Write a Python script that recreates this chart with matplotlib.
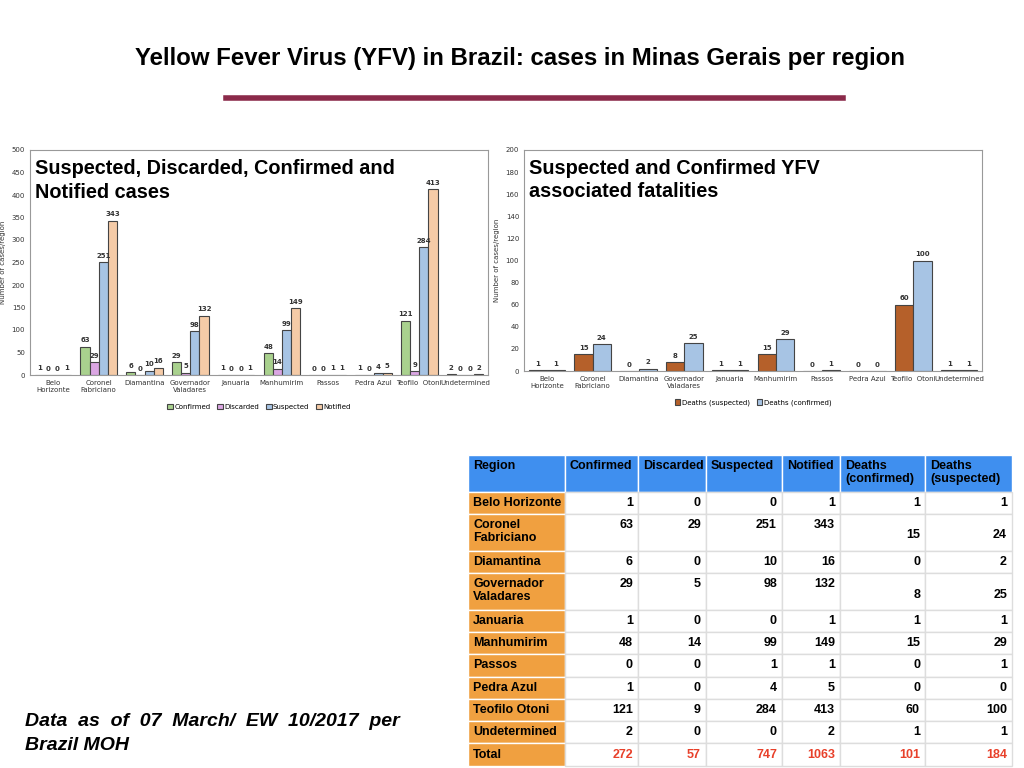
import matplotlib
matplotlib.use("Agg")
import matplotlib.pyplot as plt
import numpy as np
from matplotlib.patches import Rectangle

regions = ["Belo Horizonte", "Coronel Fabriciano", "Diamantina", "Governador Valadares", "Januaria",
           "Manhumirim", "Passos", "Pedra Azul", "Teofilo Otoni", "Undetermined"]
tick_labels = ["Belo\nHorizonte", "Coronel\nFabriciano", "Diamantina", "Governador\nValadares", "Januaria",
               "Manhumirim", "Passos", "Pedra Azul", "Teofilo  Otoni", "Undetermined"]
confirmed = [1, 63, 6, 29, 1, 48, 0, 1, 121, 2]
discarded = [0, 29, 0, 5, 0, 14, 0, 0, 9, 0]
suspected = [0, 251, 10, 98, 0, 99, 1, 4, 284, 0]
notified = [1, 343, 16, 132, 1, 149, 1, 5, 413, 2]
deaths_susp_chart = [1, 15, 0, 8, 1, 15, 0, 0, 60, 1]
deaths_conf_chart = [1, 24, 2, 25, 1, 29, 1, 0, 100, 1]

W, H = 1024, 768
fig = plt.figure(figsize=(10.24, 7.68), dpi=100)
fig.patch.set_facecolor("white")

def rect(x0, y0, x1, y1):
    return [x0 / W, 1 - y1 / H, (x1 - x0) / W, (y1 - y0) / H]

fig.text(520 / W, 1 - 58 / H, "Yellow Fever Virus (YFV) in Brazil: cases in Minas Gerais per region",
         ha="center", va="center", fontsize=17.3, fontweight="bold", family="Liberation Sans")
fig.add_artist(plt.Line2D([226 / W, 843 / W], [1 - 98 / H] * 2, color="#8b2a4a", lw=4))

def bar_chart(ax, series, colors, labels, ymax, ystep, title):
    n = len(series)
    x = np.arange(len(regions))
    w = 0.8 / n
    for i, (vals, c, lab) in enumerate(zip(series, colors, labels)):
        pos = x - 0.4 + w * (i + 0.5)
        ax.bar(pos, vals, w, color=c, edgecolor="#444444", linewidth=0.8, label=lab)
        for p, v in zip(pos, vals):
            ax.text(p, v + ymax * 0.015, str(v), ha="center", va="bottom", fontsize=5, fontweight="bold", color="#333333")
    ax.set_xlim(-0.5, len(regions) - 0.5)
    ax.set_ylim(0, ymax)
    ax.set_yticks(np.arange(0, ymax + 1, ystep))
    ax.set_xticks(x)
    ax.set_xticklabels(tick_labels, fontsize=5, color="#333333")
    ax.tick_params(axis="y", labelsize=5, length=0, colors="#333333")
    ax.tick_params(axis="x", length=0)
    ax.set_ylabel("Number of cases/region", fontsize=5, color="#333333")
    for s in ax.spines.values():
        s.set_color("#999999")
    ax.text(0.01, 0.96, title, transform=ax.transAxes, ha="left", va="top", fontsize=14.3, fontweight="bold",
            family="Liberation Sans", linespacing=1.3)
    ax.legend(loc="upper center", bbox_to_anchor=(0.5, -0.1), ncol=n, fontsize=5, frameon=False,
              handlelength=0.8, handleheight=0.8, columnspacing=1.0, handletextpad=0.2)

ax1 = fig.add_axes(rect(30, 150, 488, 375))
bar_chart(ax1, [confirmed, discarded, suspected, notified],
          ["#a9d18e", "#dba6e3", "#a7c4e4", "#f5cba7"],
          ["Confirmed", "Discarded", "Suspected", "Notified"], 500, 50,
          "Suspected, Discarded, Confirmed and\nNotified cases")
ax2 = fig.add_axes(rect(524, 150, 982, 371))
bar_chart(ax2, [deaths_susp_chart, deaths_conf_chart], ["#b5602a", "#a7c4e4"],
          ["Deaths (suspected)", "Deaths (confirmed)"], 200, 20,
          "Suspected and Confirmed YFV\nassociated fatalities")

# Table
tax = fig.add_axes([0, 0, 1, 1])
tax.set_xlim(0, W)
tax.set_ylim(H, 0)
tax.axis("off")
col_x = [468, 565, 638, 706, 782, 840, 925, 1012]
row_y = [455, 492, 514, 551, 573, 610, 632, 654, 677, 699, 721, 743, 766]
headers = ["Region", "Confirmed", "Discarded", "Suspected", "Notified", "Deaths\n(confirmed)", "Deaths\n(suspected)"]
tab_deaths_c = deaths_susp_chart
tab_deaths_s = deaths_conf_chart
totals = [sum(confirmed), sum(discarded), sum(suspected), sum(notified), sum(tab_deaths_c), sum(tab_deaths_s)]
fp = dict(fontsize=9, fontweight="bold", family="Liberation Sans")
for j, h in enumerate(headers):
    tax.add_patch(Rectangle((col_x[j], row_y[0]), col_x[j + 1] - col_x[j], row_y[1] - row_y[0],
                            facecolor="#3f8fef", edgecolor="white", lw=1))
    tax.text(col_x[j] + 5, row_y[0] + 5, h, ha="left", va="top", linespacing=1.1, **fp)
rows = [[r] + [confirmed[i], discarded[i], suspected[i], notified[i], tab_deaths_c[i], tab_deaths_s[i]]
        for i, r in enumerate(regions)] + [["Total"] + totals]
row_names = ["Belo Horizonte", "Coronel\nFabriciano", "Diamantina", "Governador\nValadares", "Januaria",
             "Manhumirim", "Passos", "Pedra Azul", "Teofilo Otoni", "Undetermined", "Total"]
for i, row in enumerate(rows):
    y0, y1 = row_y[i + 1], row_y[i + 2]
    tall = (y1 - y0) > 30
    for j in range(7):
        fc = "#f0a040" if j == 0 else "white"
        tax.add_patch(Rectangle((col_x[j], y0), col_x[j + 1] - col_x[j], y1 - y0,
                                facecolor=fc, edgecolor="#dddddd" if j else "white", lw=1))
        if j == 0:
            tax.text(col_x[0] + 5, y0 + 5 if tall else (y0 + y1) / 2, row_names[i],
                     ha="left", va="top" if tall else "center", linespacing=1.1, **fp)
        else:
            color = "#e8402a" if i == len(rows) - 1 else "black"
            if tall and j < 5:
                yy, va = y0 + 5, "top"
            elif tall:
                yy, va = (y0 + y1) / 2 + 3, "center"
            else:
                yy, va = (y0 + y1) / 2, "center"
            tax.text(col_x[j + 1] - 5, yy, str(row[j]), ha="right", va=va, color=color, **fp)

fig.text(25 / W, 1 - 721 / H, "Data  as  of  07  March/  EW  10/2017  per", fontsize=14, fontweight="bold",
         style="italic", family="Liberation Sans", va="center")
fig.text(25 / W, 1 - 746 / H, "Brazil MOH", fontsize=14, fontweight="bold",
         style="italic", family="Liberation Sans", va="center")

fig.savefig("out.png", dpi=100)
